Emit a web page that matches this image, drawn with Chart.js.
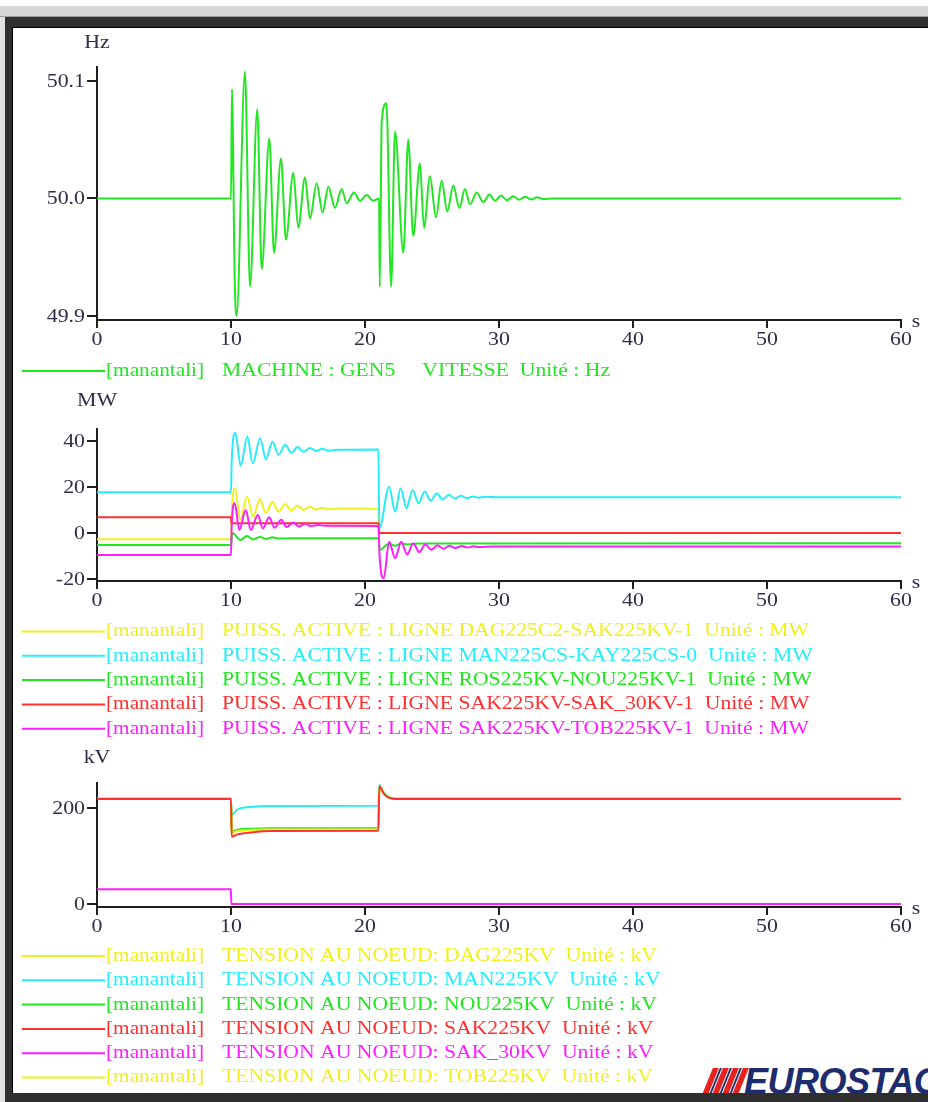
<!DOCTYPE html>
<html><head><meta charset="utf-8">
<script src="https://cdn.jsdelivr.net/npm/chart.js"></script>
<style>
html,body{margin:0;padding:0;}
body{width:928px;height:1102px;position:relative;overflow:hidden;background:#e2e2e2;}
#topw{position:absolute;left:0;top:0;width:928px;height:6px;background:#fff;}
#band{position:absolute;left:0;top:6px;width:928px;height:10px;background:#d6d6d6;border-bottom:1px solid #9a9a9a;}
#frame{position:absolute;left:5px;top:17px;width:940px;height:1100px;background:#2f2f2f;}
#panel{position:absolute;left:12px;top:27px;width:930px;height:1066px;background:#fff;overflow:hidden;border-left:1px solid #000;border-top:1px solid #000;box-sizing:border-box;}
canvas{position:absolute;left:0;}
.stripe{position:absolute;top:1040px;width:6px;height:34px;background:#e52420;transform:skewX(-22deg);}
.bstripe{position:absolute;top:1040px;width:2px;height:34px;background:#1c2c6c;transform:skewX(-22deg);}
#logo{position:absolute;left:731px;top:1036px;font:italic bold 36px "Liberation Sans",sans-serif;color:#1c2c6c;line-height:36px;white-space:nowrap;letter-spacing:-0.5px;}
</style></head>
<body>
<div id="topw"></div><div id="band"></div><div id="frame"></div>
<div id="panel">
  <div class="stripe" style="left:693px"></div>
  <div class="bstripe" style="left:700px"></div>
  <div class="stripe" style="left:703px"></div>
  <div class="bstripe" style="left:710px"></div>
  <div class="stripe" style="left:713px"></div>
  <div class="bstripe" style="left:720px"></div>
  <div class="stripe" style="left:723px"></div>
  <div id="logo">EUROSTAG</div>
</div>
<canvas id="c1" width="928" height="390" style="top:0px"></canvas>
<canvas id="c2" width="928" height="355" style="top:390px"></canvas>
<canvas id="c3" width="928" height="357" style="top:745px"></canvas>
<script>
// ---------- data ----------
const xTicks = [0, 10, 20, 30, 40, 50, 60];
const source = '[manantali]';

// Chart 1 : frequency (Hz)
const hzTicks = [49.9, 50.0, 50.1];
const hzT = [0, 10.0, 10.07, 10.28, 10.42, 11.04, 11.42, 11.96, 12.29, 12.86,
  13.21, 13.73, 14.10, 14.65, 15.02, 15.52, 15.90, 16.39, 16.84, 17.26,
  17.76, 18.26, 18.63, 19.18, 19.63, 20.12, 20.62, 21.05, 21.1, 21.25,
  21.6, 21.95, 22.24, 22.86, 23.23, 23.6, 24.1, 24.4, 24.85, 25.3,
  25.72, 26.14, 26.59, 27.04, 27.46, 27.84, 28.33, 28.83, 29.28, 29.7,
  30.15, 30.6, 31.05, 31.5, 31.95, 32.4, 32.85, 33.3, 34.0, 60];
const hzV = [50.0, 50.0, 50.093, 49.928, 49.900, 50.108, 49.925, 50.076, 49.940, 50.051,
  49.954, 50.034, 49.965, 50.022, 49.975, 50.018, 49.983, 50.013, 49.988, 50.010,
  49.992, 50.008, 49.996, 50.005, 49.998, 50.003, 49.998, 50.0, 49.925, 50.066,
  50.081, 49.925, 50.057, 49.954, 50.050, 49.968, 50.030, 49.975, 50.019, 49.984,
  50.015, 49.989, 50.011, 49.992, 50.008, 49.995, 50.005, 49.997, 50.0035, 49.998,
  50.0025, 49.9985, 50.002, 49.999, 50.0015, 49.9992, 50.001, 49.9995, 50.0, 50.0];

// Chart 2 : active power (MW)
const mwTicks = [-20, 0, 20, 40];
const mwDagT = [0, 10.0, 10.05, 10.3, 10.7, 11.2, 11.65, 12.15, 12.6, 13.1,
  13.55, 14.05, 14.5, 14.95, 15.4, 15.9, 16.35, 16.8, 17.25, 18.0, 21.0, 21.06, 60];
const mwDagV = [-2.7, -2.7, 8.0, 19.4, 5.7, 15.8, 7.1, 14.8, 8.6, 13.6,
  9.3, 12.6, 9.7, 11.9, 10.0, 11.4, 10.2, 11.0, 10.3, 10.6, 10.5, 0.0, 0.0];
const mwManT = [0, 10.0, 10.05, 10.33, 10.72, 11.22, 11.62, 12.18, 12.6, 13.1,
  13.55, 14.05, 14.5, 14.96, 15.4, 15.9, 16.4, 16.8, 17.25, 18.0, 21.0,
  21.07, 21.8, 22.25, 22.65, 23.1, 23.55, 24.0, 24.45, 24.9, 25.35,
  25.8, 26.25, 26.7, 27.15, 27.6, 28.05, 28.5, 28.95, 30.0, 60];
const mwManV = [17.7, 17.7, 31.0, 43.5, 29.2, 41.9, 30.3, 41.2, 32.0, 39.7,
  33.9, 38.3, 34.8, 37.4, 35.3, 36.9, 35.6, 36.6, 35.8, 36.2, 36.3,
  2.0, 20.1, 9.3, 19.4, 10.8, 18.7, 12.9, 18.0, 14.0, 17.2,
  14.6, 16.6, 15.0, 16.2, 15.1, 15.9, 15.3, 15.7, 15.5, 15.5];
const mwRosT = [0, 10.0, 10.1, 10.7, 11.2, 11.65, 12.15, 12.6, 13.1, 13.55,
  14.5, 21.0, 21.1, 21.8, 22.25, 22.7, 23.15, 24.0, 60];
const mwRosV = [-5.2, -5.2, 0.0, -3.0, -1.3, -2.8, -1.7, -2.6, -1.9, -2.4,
  -2.3, -2.3, -7.4, -4.6, -5.6, -4.6, -5.0, -4.6, -4.5];
const mwSak30T = [0, 10.0, 10.03, 21.0, 21.05, 60];
const mwSak30V = [6.8, 6.8, 4.2, 4.2, 0.0, 0.0];
const mwTobT = [0, 10.0, 10.05, 10.28, 10.62, 11.1, 11.48, 12.0, 12.38, 12.85,
  13.25, 13.75, 14.15, 14.65, 15.05, 15.55, 15.95, 16.5, 17.0, 21.0,
  21.1, 21.4, 21.8, 22.25, 22.7, 23.15, 23.6, 24.05, 24.5, 24.95,
  25.4, 25.85, 26.3, 26.75, 27.2, 27.65, 28.1, 28.55, 29.5, 60];
const mwTobV = [-9.6, -9.6, 3.0, 12.9, 1.3, 10.0, 1.3, 7.8, 2.0, 6.8,
  2.3, 5.7, 2.6, 4.6, 2.8, 4.0, 2.9, 3.5, 3.1, 3.0,
  -11.0, -19.7, -3.8, -11.0, -3.8, -9.3, -4.5, -8.3, -5.0, -7.3,
  -5.3, -6.9, -5.5, -6.5, -5.7, -6.3, -5.8, -6.1, -5.9, -5.9];

// Chart 3 : node voltage (kV)
const kvTicks = [0, 200];
const kvT = [0, 10.0, 10.05, 10.5, 11.5, 13.0, 21.0, 21.07, 21.4, 21.7, 22.0, 22.5, 60];
const kvDagV = [219.5, 219.5, 149.0, 153.0, 155.0, 155.6, 155.8, 245, 231, 223, 220.5, 219.5, 219.5];
const kvManV = [219.5, 219.5, 185.4, 197.0, 202.0, 204.2, 204.5, 248, 233, 224, 221, 219.5, 219.5];
const kvNouV = [219.5, 219.5, 150.7, 155.0, 157.0, 158.0, 158.5, 246, 231, 223, 220.5, 219.3, 219.3];
const kvSakV = [218.8, 218.8, 140.3, 145.0, 149.0, 152.0, 152.8, 245, 230, 222.5, 220, 218.8, 218.8];
const kvTobV = [219.5, 219.5, 148.0, 152.0, 154.5, 155.2, 155.4, 245, 230.5, 223, 220.5, 219.5, 219.5];
const kvSak30T = [0, 10.0, 10.02, 60];
const kvSak30V = [30.6, 30.6, 0.0, 0.0];

// ---------- styling ----------
const YEL = '#f0f020', CYA = '#28ecfa', GRN = '#22e622', RED = '#ff3030', MAG = '#ff1eff';
const AX = '#1e1e1e', TXT = '#2e2e48';
const FONT = '19px "Liberation Serif", "Times New Roman", serif';

function stretchText(ctx, txt, x, y, align, color, sx) {
  ctx.save();
  ctx.font = FONT; ctx.fillStyle = color; ctx.textBaseline = 'middle'; ctx.textAlign = align;
  ctx.translate(x, y); ctx.scale(sx, 1);
  ctx.fillText(txt, 0, 0);
  ctx.restore();
}

const deco = {
  id: 'deco',
  afterDraw(chart, args, o) {
    const ctx = chart.ctx, ca = chart.chartArea, xs = chart.scales.x, ys = chart.scales.y;
    ys.ticks.forEach(t => stretchText(ctx, t.value.toFixed(o.dec), ca.left - 12, ys.getPixelForValue(t.value) + 1, 'right', TXT, 1.15));
    xs.ticks.forEach(t => stretchText(ctx, String(t.value), xs.getPixelForValue(t.value), ca.bottom + 20, 'center', TXT, 1.15));
    stretchText(ctx, o.unit, ca.left, ca.top - o.unitGap, 'center', TXT, 1.15);
    stretchText(ctx, 's', ca.right + 15, ca.bottom + 2, 'center', TXT, 1.15);
    chart.data.datasets.forEach((ds, i) => {
      const y = o.legTop + i * o.legStep;
      ctx.save();
      ctx.strokeStyle = ds.borderColor; ctx.lineWidth = 2;
      ctx.beginPath(); ctx.moveTo(22, y); ctx.lineTo(105, y); ctx.stroke();
      ctx.restore();
      stretchText(ctx, source, 106, y, 'left', ds.borderColor, 1.12);
      stretchText(ctx, ds.label, 222, y, 'left', ds.borderColor, 1.14);
    });
  }
};

function pts(T, V) { return T.map((t, i) => ({x: t, y: V[i]})); }

function makeChart(id, pad, yMin, yMax, yTicks, deco_o, series) {
  const n = series.length;
  return new Chart(document.getElementById(id), {
    type: 'line',
    data: {datasets: series.map((s, i) => ({
      label: s.label, data: pts(s.T, s.V), borderColor: s.color, backgroundColor: s.color,
      borderWidth: 2, pointRadius: 0, fill: false, cubicInterpolationMode: 'monotone',
      order: s.order !== undefined ? s.order : (n - 1 - i)
    }))},
    options: {
      responsive: false, animation: false, devicePixelRatio: 1, events: [],
      layout: {padding: pad},
      plugins: {legend: {display: false}, tooltip: {enabled: false}, deco: deco_o},
      scales: {
        x: {type: 'linear', min: 0, max: 60,
          afterBuildTicks: s => { s.ticks = xTicks.map(v => ({value: v})); },
          afterFit: s => { s.height = 30; },
          ticks: {display: false},
          grid: {drawOnChartArea: false, drawTicks: true, tickLength: 8, color: AX, lineWidth: 2},
          border: {display: true, color: AX, width: 2}},
        y: {type: 'linear', min: yMin, max: yMax,
          afterBuildTicks: s => { s.ticks = yTicks.map(v => ({value: v})); },
          afterFit: s => { s.width = 97; },
          ticks: {display: false},
          grid: {drawOnChartArea: false, drawTicks: true, tickLength: 10, color: AX, lineWidth: 2},
          border: {display: true, color: AX, width: 2}}
      }
    },
    plugins: [deco]
  });
}

makeChart('c1', {top: 67, left: 0, right: 27, bottom: 40}, 49.8966, 50.1119, hzTicks,
  {dec: 1, unit: 'Hz', unitGap: 24, legTop: 371, legStep: 24},
  [{label: 'MACHINE : GEN5     VITESSE  Unité : Hz', color: GRN, T: hzT, V: hzV}]);

makeChart('c2', {top: 39, left: 0, right: 27, bottom: 134}, -20.87, 45.2, mwTicks,
  {dec: 0, unit: 'MW', unitGap: 28, legTop: 241.5, legStep: 24.3},
  [{label: 'PUISS. ACTIVE : LIGNE DAG225C2-SAK225KV-1  Unité : MW', color: YEL, T: mwDagT, V: mwDagV},
   {label: 'PUISS. ACTIVE : LIGNE MAN225CS-KAY225CS-0  Unité : MW', color: CYA, T: mwManT, V: mwManV},
   {label: 'PUISS. ACTIVE : LIGNE ROS225KV-NOU225KV-1  Unité : MW', color: GRN, T: mwRosT, V: mwRosV},
   {label: 'PUISS. ACTIVE : LIGNE SAK225KV-SAK_30KV-1  Unité : MW', color: RED, T: mwSak30T, V: mwSak30V},
   {label: 'PUISS. ACTIVE : LIGNE SAK225KV-TOB225KV-1  Unité : MW', color: MAG, T: mwTobT, V: mwTobV}]);

makeChart('c3', {top: 38, left: 0, right: 27, bottom: 165}, -6.25, 252.1, kvTicks,
  {dec: 0, unit: 'kV', unitGap: 25, legTop: 211, legStep: 24.3},
  [{label: 'TENSION AU NOEUD: DAG225KV  Unité : kV', color: YEL, T: kvT, V: kvDagV, order: 5},
   {label: 'TENSION AU NOEUD: MAN225KV  Unité : kV', color: CYA, T: kvT, V: kvManV, order: 4},
   {label: 'TENSION AU NOEUD: NOU225KV  Unité : kV', color: GRN, T: kvT, V: kvNouV, order: 3},
   {label: 'TENSION AU NOEUD: SAK225KV  Unité : kV', color: RED, T: kvT, V: kvSakV, order: 1},
   {label: 'TENSION AU NOEUD: SAK_30KV  Unité : kV', color: MAG, T: kvSak30T, V: kvSak30V, order: 0},
   {label: 'TENSION AU NOEUD: TOB225KV  Unité : kV', color: YEL, T: kvT, V: kvTobV, order: 2}]);
</script>
</body></html>
